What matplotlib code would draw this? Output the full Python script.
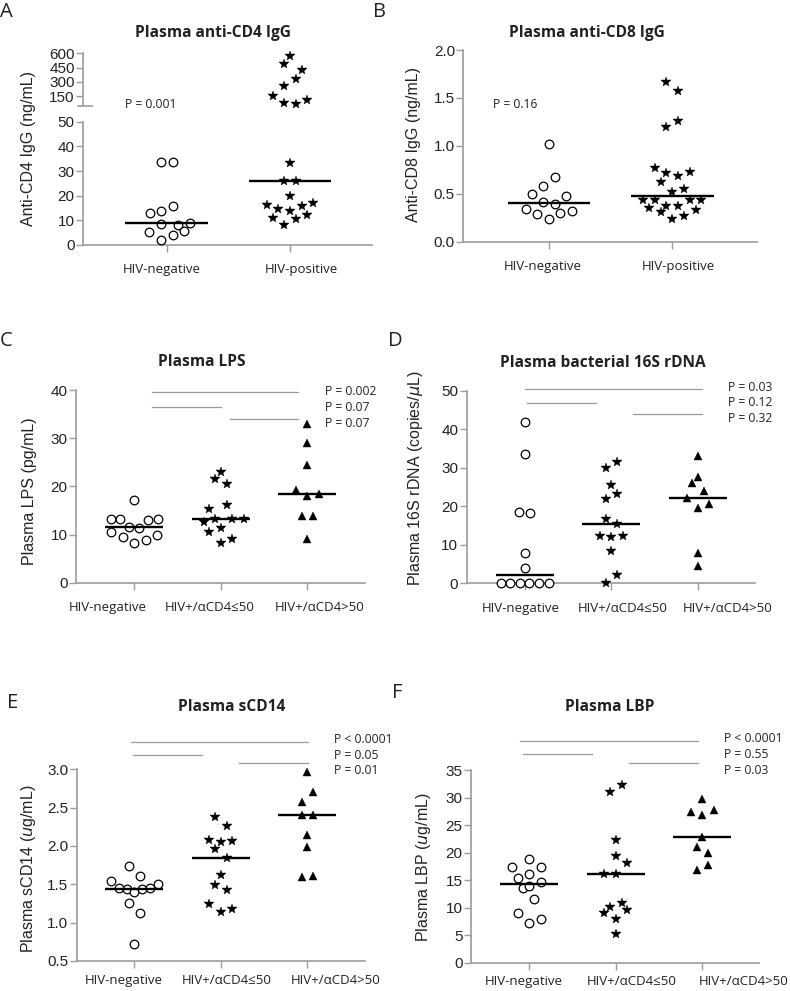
"""
Plasma anti-CD4/anti-CD8 IgG and microbial translocation markers
by HIV status / anti-CD4 IgG level (panels A-F).
"""

import numpy as np
import matplotlib
matplotlib.use("Agg")
import matplotlib.pyplot as plt
from matplotlib.transforms import ScaledTranslation

W, H = 790, 991
DPI = 100

NUM_FONT = "Liberation Sans"
TXT_FONT = ["Open Sans", "DejaVu Sans"]
AXIS_GRAY = "#9c9c9c"
INK = "#222222"

# ---------------- data ----------------
groups2 = ["HIV-negative", "HIV-positive"]
groups3 = ["HIV-negative", "HIV+/\u03b1CD4\u226450", "HIV+/\u03b1CD4>50"]

# A: anti-CD4 IgG (ng/mL)
cd4_neg = [33.8, 33.5, 15.9, 12.8, 13.6, 8.4, 8.0, 9.1, 5.1, 5.7, 3.9, 2.0]
cd4_pos = [572, 484, 424, 329, 259, 150, 108, 83, 66,
           33.1, 25.9, 25.9, 19.7, 17.0, 16.4, 15.9, 14.6, 13.8, 12.3, 11.1, 10.4, 8.2]

# B: anti-CD8 IgG (ng/mL)
cd8_neg = [1.02, 0.67, 0.58, 0.50, 0.48, 0.41, 0.39, 0.34, 0.32, 0.29, 0.30, 0.24]
cd8_pos = [1.67, 1.57, 1.26, 1.20, 0.77, 0.72, 0.73, 0.685, 0.62, 0.55, 0.52,
           0.44, 0.44, 0.435, 0.44, 0.375, 0.37, 0.355, 0.31, 0.33, 0.27, 0.24]

# C: LPS (pg/mL)
lps_neg = [17.2, 13.2, 13.2, 12.95, 13.2, 11.6, 11.4, 10.45, 9.9, 9.5, 8.9, 8.3]
lps_lo = [23.0, 21.5, 20.5, 16.1, 15.3, 12.7, 13.3, 13.3, 13.3, 11.3, 10.6, 9.1, 8.3]
lps_hi = [32.9, 29.1, 24.5, 19.3, 18.1, 18.5, 13.8, 13.8, 9.1]

# D: 16S rDNA (copies/uL)
rdna_neg = [42.0, 33.6, 18.5, 18.3, 7.9, 4.1, 0, 0, 0, 0, 0, 0]
rdna_lo = [31.6, 30.1, 25.5, 23.1, 21.8, 16.8, 15.3, 12.4, 12.0, 12.2, 8.5, 2.2, 0]
rdna_hi = [33.1, 27.7, 26.0, 24.1, 22.1, 20.6, 19.5, 7.8, 4.6]

# E: sCD14 (ug/mL)
scd14_neg = [1.74, 1.54, 1.61, 1.50, 1.45, 1.44, 1.40, 1.44, 1.45, 1.25, 1.12, 0.72]
scd14_lo = [2.38, 2.26, 2.08, 2.05, 2.06, 1.96, 1.84, 1.62, 1.49, 1.43, 1.24, 1.14, 1.18]
scd14_hi = [2.96, 2.70, 2.58, 2.40, 2.40, 2.14, 1.99, 1.59, 1.61]

# F: LBP (ug/mL)
lbp_neg = [18.8, 17.3, 17.4, 16.2, 15.4, 14.6, 13.6, 13.9, 11.5, 9.0, 7.3, 7.9]
lbp_lo = [32.3, 31.0, 22.3, 19.4, 18.1, 16.2, 16.2, 10.9, 10.1, 9.5, 9.0, 7.9, 5.2]
lbp_hi = [29.7, 27.3, 26.9, 27.7, 22.8, 21.0, 19.9, 16.8, 17.8]

# p-values for (neg vs >50, neg vs <=50, <=50 vs >50)
p_A = ["P = 0.001"]
p_B = ["P = 0.16"]
p_C = ["P = 0.002", "P = 0.07", "P = 0.07"]
p_D = ["P = 0.03", "P = 0.12", "P = 0.32"]
p_E = ["P < 0.0001", "P = 0.05", "P = 0.01"]
p_F = ["P < 0.0001", "P = 0.55", "P = 0.03"]

# ---------------- scatter layout (column offsets, category units) ----------------
dx_cd4_neg = [-0.046, 0.049, 0.049, -0.136, -0.046, -0.046, 0.095, 0.19, -0.141, 0.141, 0.049, -0.046]
dx_cd4_pos = [0, -0.046, 0.095, 0.049, -0.046, -0.141, 0.141, -0.046, 0.049,
              0, -0.046, 0.049, 0, 0.19, -0.19, 0.095, -0.095, 0, 0.141, -0.141, 0.049, -0.046]
dx_cd8_neg = [0, 0.046, -0.046, -0.141, 0.141, -0.046, 0.046, -0.19, 0.187, -0.095, 0.092, 0]
dx_cd8_pos = [-0.049, 0.049, 0.049, -0.049, -0.144, -0.049, 0.141, 0.049, -0.095, 0.092, 0,
              -0.236, -0.144, 0.141, 0.233, -0.049, 0.049, -0.19, -0.095, 0.19, 0.092, 0]
dx_lps = [[0, -0.274, -0.166, 0.162, 0.277, -0.058, 0.058, -0.274, 0.258, -0.135, 0.135, 0],
          [0, -0.066, 0.069, 0.069, -0.135, -0.2, -0.066, 0.135, 0.27, 0, -0.135, 0.135, 0],
          [0, 0, 0, -0.131, 0, 0.131, -0.066, 0.069, 0]]
dx_rdna = [[0, 0, -0.066, 0.062, 0, 0, -0.277, -0.17, -0.058, 0.054, 0.166, 0.277],
           [0.066, -0.062, 0, 0.066, -0.062, -0.062, 0.066, -0.131, 0, 0.135, 0, 0.066, -0.062],
           [0, 0, -0.066, 0.066, -0.131, 0.131, 0, 0, 0]]
dx_scd14 = [[-0.062, -0.27, 0.066, 0.27, -0.173, -0.089, 0, 0.092, 0.181, -0.062, 0.066, 0],
            [-0.069, 0.066, -0.135, 0, 0.131, -0.069, 0.066, 0, -0.069, 0.066, -0.135, 0, 0.131],
            [0, 0.069, -0.066, -0.066, 0.069, 0, 0, -0.066, 0.069]]
dx_lbp = [[0, -0.2, 0.135, 0, -0.131, 0.135, -0.066, 0, 0.062, -0.131, 0, 0.135],
          [0.069, -0.066, 0, 0, 0.135, -0.135, 0, 0.069, -0.066, 0.135, -0.135, 0, 0],
          [0, -0.135, 0, 0.135, 0, -0.066, 0.069, -0.066, 0.069]]

MARKERS = [dict(marker="o", ms=6.2, mfc="white", mec="black", mew=0.9),
           dict(marker="*", ms=7.0, mfc="black", mec="black", mew=0.3),
           dict(marker="^", ms=5.8, mfc="black", mec="black", mew=0.3)]
MED_HALF = 0.335

fig = plt.figure(figsize=(W / DPI, H / DPI), dpi=DPI)


def add_axes_px(left, top, right, bottom):
    return fig.add_axes([left / W, 1 - bottom / H, (right - left) / W, (bottom - top) / H])


def style(ax, xlim, ylim, yticks, ytick_labels=None, xlabels=None, xpad=8, xshift=None):
    for side in ["top", "right"]:
        ax.spines[side].set_visible(False)
    for side in ["left", "bottom"]:
        ax.spines[side].set_color(AXIS_GRAY)
        ax.spines[side].set_linewidth(1.2)
    ax.set_xlim(*xlim)
    ax.set_ylim(*ylim)
    ax.set_yticks(yticks)
    if ytick_labels is not None:
        ax.set_yticklabels(ytick_labels)
    ax.tick_params(axis="y", direction="out", length=5, width=1.0, color=AXIS_GRAY,
                   pad=1, labelsize=11, labelcolor=INK)
    for t in ax.get_yticklabels():
        t.set_fontfamily(NUM_FONT)
    if xlabels is None:
        ax.set_xticks([])
        ax.spines["bottom"].set_visible(False)
    else:
        ax.set_xticks(range(len(xlabels)))
        ax.set_xticklabels(xlabels)
        ax.tick_params(axis="x", direction="out", length=5, width=1.0, color=AXIS_GRAY,
                       pad=xpad, labelsize=9.5, labelcolor=INK)
        for i, t in enumerate(ax.get_xticklabels()):
            t.set_fontfamily(TXT_FONT)
            if xshift is not None:
                t.set_transform(t.get_transform() +
                                ScaledTranslation(xshift[i] / DPI, 0, fig.dpi_scale_trans))


def scatter_group(ax, x, values, offsets, mk):
    ax.plot(x + np.asarray(offsets), values, ls="none", clip_on=False, zorder=3, **MARKERS[mk])


def median_line(ax, x, values):
    med = np.median(values)
    ax.plot([x - MED_HALF, x + MED_HALF], [med, med], color="black", lw=1.7,
            solid_capstyle="butt", zorder=4, clip_on=False)


def ylabel(ax, text, offset_px, yc_px, top_px, bottom_px, left_px, right_px):
    ax.set_ylabel(text, fontfamily=NUM_FONT, fontsize=11.5, color=INK, va="center")
    ax.yaxis.set_label_coords(-offset_px / (right_px - left_px),
                              (bottom_px - yc_px) / (bottom_px - top_px))


def title(text, xc, yc):
    fig.text(xc / W, 1 - yc / H, text, ha="center", va="center", fontsize=11.2,
             fontweight="bold", fontfamily=TXT_FONT, color=INK)


def letter(text, x, yc):
    fig.text(x / W, 1 - yc / H, text, ha="left", va="center", fontsize=14.5,
             fontfamily=TXT_FONT, color=INK)


def brackets(ax, spans, pvals, px, py):
    for (x0, x1, y) in spans:
        ax.plot([x0, x1], [y, y], color=AXIS_GRAY, lw=0.9, clip_on=False)
    for p, y in zip(pvals, py):
        ax.text(px, y, p, ha="left", va="center", fontsize=8.7, fontfamily=TXT_FONT,
                color=INK, clip_on=False)


# ---------------- A: broken axis ----------------
A_L, A_R = 83, 372
axA_hi = add_axes_px(A_L, 53.3, A_R, 105.7)
axA = add_axes_px(A_L, 121.7, A_R, 245)
style(axA_hi, (-0.679, 1.665), (50, 600), [150, 300, 450, 600])
style(axA, (-0.679, 1.665), (0, 50), [0, 10, 20, 30, 40, 50], xlabels=groups2,
      xshift=[-5, 11.7])
# break mark at the bottom of the upper segment
axA_hi.plot([-4.7 / (A_R - A_L), 8.7 / (A_R - A_L)], [0, 0], color=AXIS_GRAY, lw=1.2,
            transform=axA_hi.transAxes, clip_on=False)

scatter_group(axA, 0, cd4_neg, dx_cd4_neg, 0)
median_line(axA, 0, cd4_neg)
pos = np.asarray(cd4_pos)
dpos = np.asarray(dx_cd4_pos)
hi = pos > 50
axA_hi.plot(1 + dpos[hi], pos[hi], ls="none", clip_on=False, zorder=3, **MARKERS[1])
axA.plot(1 + dpos[~hi], pos[~hi], ls="none", clip_on=False, zorder=3, **MARKERS[1])
median_line(axA, 1, cd4_pos)
axA.text(-0.338, 56.8, p_A[0], ha="left", va="center", fontsize=8.7,
         fontfamily=TXT_FONT, color=INK, clip_on=False)
ylabel(axA, "Anti-CD4 IgG (ng/mL)", 54.7, 149, 121.7, 245, A_L, A_R)
title("Plasma anti-CD4 IgG", 213, 33)
letter("A", 0, 12)

# ---------------- B ----------------
B_L, B_R = 463.3, 757
axB = add_axes_px(B_L, 50, B_R, 241.7)
style(axB, (-0.695, 1.687), (0, 2.0), [0, 0.5, 1.0, 1.5, 2.0],
      ["0.0", "0.5", "1.0", "1.5", "2.0"], xlabels=groups2, xshift=[-6.5, 5.7])
scatter_group(axB, 0, cd8_neg, dx_cd8_neg, 0)
median_line(axB, 0, cd8_neg)
scatter_group(axB, 1, cd8_pos, dx_cd8_pos, 1)
median_line(axB, 1, cd8_pos)
axB.text(-0.452, 1.433, p_B[0], ha="left", va="center", fontsize=8.7,
         fontfamily=TXT_FONT, color=INK)
ylabel(axB, "Anti-CD8 IgG (ng/mL)", 49.6, 145, 50, 241.7, B_L, B_R)
title("Plasma anti-CD8 IgG", 587, 33)
letter("B", 373, 12)


def three_group_panel(box, xlim, ylim, yticks, yticklabels, data, offsets,
                      spans, pvals, px, py, ylab, lab_off, lab_yc, xpad=8, xshift=None):
    L, T, R, B = box
    ax = add_axes_px(L, T, R, B)
    style(ax, xlim, ylim, yticks, yticklabels, xlabels=groups3, xpad=xpad, xshift=xshift)
    for i, (vals, dx) in enumerate(zip(data, offsets)):
        scatter_group(ax, i, vals, dx, i)
        median_line(ax, i, vals)
    brackets(ax, spans, pvals, px, py)
    ylabel(ax, ylab, lab_off, lab_yc, T, B, L, R)
    return ax


# ---------------- C ----------------
three_group_panel((76, 390, 365, 582.7), (-0.674, 2.667), (0, 40), [0, 10, 20, 30, 40], None,
                  [lps_neg, lps_lo, lps_hi], dx_lps,
                  [(0.208, 1.896, 39.65), (0.208, 1.002, 36.5), (1.106, 1.896, 33.98)],
                  p_C, 2.205, [39.73, 36.4, 33.07],
                  "Plasma LPS (pg/mL)", 46.7, 490.7, xpad=8.5, xshift=[-26.6, -10.7, 12.4])
title("Plasma LPS", 202, 362.3)
letter("C", 0, 341)

# ---------------- D ----------------
three_group_panel((466.7, 391, 755, 583.3), (-0.669, 2.657), (0, 50), [0, 10, 20, 30, 40, 50], None,
                  [rdna_neg, rdna_lo, rdna_hi], dx_rdna,
                  [(0.0, 2.04, 50.4), (0.03, 0.82, 46.8), (1.25, 2.04, 43.9)],
                  p_D, 2.348, [50.96, 46.96, 42.9],
                  "Plasma 16S rDNA (copies/$\\mu$L)", 51.3, 478, xpad=8.5,
                  xshift=[-4.4, 11.8, 30])
title("Plasma bacterial 16S rDNA", 603.3, 362.7)
letter("D", 388, 341)

# ---------------- E ----------------
three_group_panel((76.7, 769.3, 365, 961), (-0.666, 2.667), (0.5, 3.0),
                  [0.5, 1.0, 1.5, 2.0, 2.5, 3.0], ["0.5", "1.0", "1.5", "2.0", "2.5", "3.0"],
                  [scd14_neg, scd14_lo, scd14_hi], dx_scd14,
                  [(-0.042, 2.005, 3.361), (-0.012, 0.786, 3.187), (1.214, 2.005, 3.078)],
                  p_E, 2.312, [3.391, 3.186, 2.982],
                  "Plasma sCD14 ($\\mathit{u}$g/mL)", 48.3, 869, xpad=4.5,
                  xshift=[-11, 6, 28.5])
title("Plasma sCD14", 231.7, 706.7)
letter("E", 7, 703)

# ---------------- F ----------------
three_group_panel((471, 770, 759, 962.7), (-0.669, 2.654), (0, 35),
                  [0, 5, 10, 15, 20, 25, 30, 35], None,
                  [lbp_neg, lbp_lo, lbp_hi], dx_lbp,
                  [(-0.104, 1.947, 40.34), (-0.066, 0.724, 37.86), (1.154, 1.947, 36.34)],
                  p_F, 2.254, [40.76, 37.86, 35.0],
                  "Plasma LBP ($\\mathit{u}$g/mL)", 47.7, 867, xpad=3.5,
                  xshift=[-5.5, 16.5, 41])
title("Plasma LBP", 609.7, 706.7)
letter("F", 392, 693)

fig.savefig("out.png", dpi=DPI)
